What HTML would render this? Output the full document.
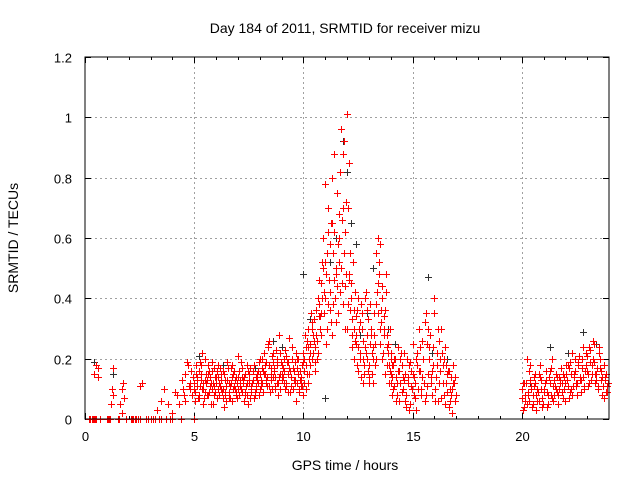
<!DOCTYPE html>
<html><head><meta charset="utf-8"><style>
html,body{margin:0;padding:0;background:#fff;}
svg{display:block;font-family:"Liberation Sans",sans-serif;}
</style></head><body>
<svg id="chart" width="640" height="480" viewBox="0 0 640 480">
<rect x="0" y="0" width="640" height="480" fill="#fff"/>
<text x="345" y="33" font-size="14" text-anchor="middle">Day 184 of 2011, SRMTID for receiver mizu</text>
<text x="345" y="470" font-size="14" text-anchor="middle">GPS time / hours</text>
<text x="0" y="0" font-size="14" text-anchor="middle" transform="translate(18,238) rotate(-90)">SRMTID / TECUs</text>
<g id="grid"></g><g id="ticks"></g><g id="marks"></g>
<rect x="85" y="57" width="524" height="362" fill="none" stroke="#000" stroke-width="1"/>
</svg>
<script>
const xTicks=[0,5,10,15,20];
const yTicks=[0,0.2,0.4,0.6,0.8,1,1.2];
const yTickLabels=["0","0.2","0.4","0.6","0.8","1","1.2"];
const redEarlyT=[0.2,0.3,0.4,0.5,0.6,0.4,0.5,0.6,1.0,1.1,1.2,1.3,1.25,1.3,1.6,1.7,1.75,1.8,1.7,2.3,2.5,2.6,2.5,3.1,3.3,3.5,3.6,3.8,4.0,4.1,4.2,4.3,4.5,4.6,4.7,4.8,4.9,1.5,2.1,2.2,2.8,2.9,3.4,3.7,3.9,4.0,4.4,5.0,0.7,1.9,3.0,0.25,0.35,0.45,1.05,1.15,1.55,2.15,2.35,2.45,3.2,3.5,4.45,4.55,4.65,4.75,4.85,4.95,4.6,4.8];
const redEarlyV=[0,0,0,0,0.17,0.15,0.18,0.14,0,0,0.05,0.17,0.1,0.08,0.05,0.1,0.12,0.07,0.02,0,0,0.12,0.11,0,0.03,0.06,0.1,0.05,0.02,0.09,0.08,0.05,0.1,0.15,0.18,0.12,0.08,0,0,0,0,0,0,0,0,0,0,0,0,0,0,0,0,0,0,0,0,0,0,0,0,0,0.13,0.08,0.19,0.11,0.16,0.14,0.06,0.1];
const red5A=[0.12,0.18,0.08,0.15,0.10,0.20,0.13,0.09,0.16,0.11,0.14,0.10,0.17,0.07,0.13,0.19,0.09,0.12,0.15,0.08,0.21,0.11,0.14,0.06,0.18,0.12,0.10,0.16,0.09,0.13,0.15,0.17,0.22,0.12,0.25,0.15,0.19,0.11,0.20,0.14,0.18,0.12,0.21,0.15,0.09,0.24,0.13,0.17,0.10,0.14,0.08];
const red5B=[0.06,0.14,0.11,0.22,0.07,0.15,0.18,0.05,0.12,0.09,0.16,0.08,0.13,0.04,0.11,0.17,0.07,0.14,0.10,0.12,0.08,0.19,0.13,0.09,0.16,0.07,0.12,0.18,0.10,0.08,0.13,0.09,0.18,0.14,0.26,0.10,0.16,0.23,0.08,0.15,0.17,0.10,0.19,0.27,0.11,0.16,0.06,0.20,0.13,0.18];
const red5C=[0.09,0.11,0.16,0.13,0.05,0.12,0.08,0.14,0.10,0.17,0.07,0.12,0.15,0.10,0.08,0.13,0.11,0.06,0.16,0.09,0.14,0.10,0.12,0.15,0.08,0.13,0.11,0.07,0.14,0.12,0.10,0.20,0.15,0.11,0.18,0.13,0.22,0.14,0.12,0.10,0.15,0.20,0.12,0.17,0.14,0.10,0.19,0.12,0.16,0.11];
const red5D=[0.15,0.07,0.19,0.10,0.13,0.08,0.16,0.12,0.05,0.14,0.18,0.11,0.09,0.15,0.06,0.12,0.17,0.10,0.13,0.07,0.16,0.09,0.14,0.11,0.05,0.17,0.13,0.08,0.15,0.19,0.11,0.16,0.13,0.24,0.09,0.21,0.17,0.12,0.28,0.19,0.14,0.23,0.09,0.16,0.20,0.13,0.22,0.15,0.11,0.19];
const red5E=[0.10,0.13,0.07,0.18,0.12,0.09,0.15,0.11,0.19,0.08,0.12,0.14,0.10,0.16,0.09,0.13,0.07,0.18,0.11,0.14,0.10,0.13,0.17,0.08,0.12,0.15,0.09,0.13,0.11,0.16,0.20,0.12,0.15,0.19,0.11,0.17,0.14,0.10,0.18,0.22,0.13,0.16,0.11,0.19,0.14,0.17,0.12,0.20,0.09,0.13];
const red10A=[0.22,0.18,0.30,0.25,0.20,0.33,0.28,0.38,0.45,0.60,0.78,0.55,0.42,0.65,0.88,0.50,0.35,0.82,0.70,0.62,1.01,0.85,0.45,0.30,0.25,0.40,0.20,0.35,0.15,0.28,0.18,0.30,0.12,0.25,0.45,0.58,0.40,0.30,0.48,0.25,0.20];
const red10B=[0.12,0.26,0.15,0.35,0.22,0.16,0.40,0.30,0.52,0.35,0.48,0.70,0.32,0.55,0.40,0.75,0.60,0.45,0.92,0.48,0.38,0.55,0.33,0.42,0.18,0.30,0.38,0.12,0.22,0.33,0.25,0.15,0.35,0.20,0.52,0.32,0.22,0.36,0.18,0.30,0.14];
const red10C=[0.20,0.10,0.24,0.18,0.28,0.24,0.20,0.46,0.35,0.42,0.25,0.38,0.58,0.28,0.62,0.44,0.52,0.96,0.38,0.30,0.70,0.36,0.28,0.20,0.34,0.24,0.14,0.26,0.40,0.20,0.14,0.22,0.28,0.55,0.35,0.25,0.20,0.15,0.28,0.12,0.22];
const red10D=[0.28,0.15,0.20,0.32,0.26,0.36,0.22,0.34,0.40,0.52,0.30,0.46,0.65,0.38,0.48,0.58,0.42,0.66,0.55,0.72,0.46,0.40,0.52,0.26,0.36,0.22,0.30,0.18,0.42,0.16,0.38,0.24,0.18,0.42,0.48,0.36,0.28,0.42,0.22,0.16];
const red10E=[0.16,0.24,0.12,0.22,0.30,0.19,0.26,0.34,0.28,0.50,0.40,0.62,0.36,0.80,0.46,0.32,0.68,0.50,0.88,0.44,0.30,0.48,0.24,0.36,0.28,0.16,0.32,0.20,0.24,0.36,0.12,0.28,0.20,0.38,0.60,0.30,0.44,0.34,0.24,0.18];
const red14A=[0.15,0.10,0.20,0.12,0.06,0.18,0.22,0.08,0.14,0.05,0.25,0.12,0.18,0.30,0.10,0.20,0.35,0.15,0.28,0.08,0.40,0.22,0.12,0.30,0.18,0.05,0.15,0.10,0.02,0.12,0.08];
const red14B=[0.08,0.20,0.14,0.24,0.12,0.10,0.15,0.20,0.03,0.16,0.08,0.20,0.10,0.24,0.14,0.06,0.25,0.20,0.12,0.18,0.06,0.30,0.16,0.22,0.08,0.18,0.04,0.14,0.18,0.06];
const red14C=[0.12,0.18,0.06,0.16,0.20,0.09,0.13,0.04,0.18,0.11,0.15,0.07,0.22,0.16,0.26,0.12,0.08,0.30,0.14,0.24,0.10,0.18,0.26,0.07,0.20,0.12,0.16,0.06,0.10,0.14];
const red14D=[0.18,0.11,0.08,0.16,0.22,0.14,0.06,0.12,0.19,0.10,0.14,0.03,0.16,0.08,0.20,0.32,0.11,0.24,0.16,0.35,0.14,0.06,0.20,0.12,0.24,0.09,0.16,0.08,0.12];
const red20A=[0.10,0.04,0.12,0.08,0.18,0.05,0.15,0.10,0.06,0.13,0.09,0.16,0.05,0.12,0.20,0.08,0.14,0.10,0.17,0.07,0.12,0.18,0.09,0.22,0.14,0.11,0.19,0.13,0.24,0.16,0.21,0.12,0.18,0.25,0.15,0.10,0.20,0.08,0.14,0.11];
const red20B=[0.03,0.08,0.20,0.06,0.11,0.14,0.03,0.09,0.18,0.07,0.12,0.04,0.14,0.08,0.11,0.15,0.05,0.13,0.09,0.14,0.18,0.07,0.15,0.11,0.20,0.08,0.13,0.17,0.10,0.22,0.15,0.19,0.26,0.12,0.17,0.22,0.13,0.18,0.09,0.12];
const red20C=[0.07,0.12,0.05,0.16,0.10,0.08,0.12,0.06,0.14,0.04,0.10,0.13,0.08,0.17,0.06,0.11,0.09,0.14,0.12,0.10,0.15,0.11,0.19,0.08,0.16,0.12,0.21,0.09,0.14,0.18,0.11,0.23,0.15,0.19,0.13,0.24,0.16,0.11,0.13,0.09];
const red20D=[0.12,0.06,0.09,0.13,0.04,0.11,0.08,0.15,0.10,0.05,0.12,0.09,0.16,0.07,0.13,0.10,0.08,0.12,0.15,0.06,0.13,0.17,0.10,0.15,0.12,0.18,0.14,0.20,0.11,0.16,0.24,0.13,0.20,0.15,0.11,0.17,0.14,0.07,0.15];
const blackT=[0.4,1.3,5.2,6.3,7.8,9.0,10.0,10.3,11.2,11.5,11.8,12.0,12.2,12.4,12.9,13.2,13.6,14.2,15.7,15.9,16.6,20.4,21.3,22.1,22.8,23.4,8.6,11.0,12.6,13.9];
const blackV=[0.19,0.15,0.21,0.18,0.17,0.24,0.48,0.33,0.52,0.60,0.92,0.82,0.65,0.58,0.35,0.50,0.44,0.25,0.47,0.22,0.20,0.12,0.24,0.22,0.29,0.25,0.26,0.07,0.28,0.30];

const X0=85,X1=609,Y0=419,Y1=57;
const xs=h=>X0+(h/24)*(X1-X0);
const ys=v=>Y0-(v/1.2)*(Y0-Y1);
const NS="http://www.w3.org/2000/svg";
const grid=document.getElementById('grid'),ticks=document.getElementById('ticks'),marks=document.getElementById('marks');
function mk(tag,attrs,parent){const e=document.createElementNS(NS,tag);for(const k in attrs)e.setAttribute(k,attrs[k]);parent.appendChild(e);return e;}
xTicks.forEach(t=>{
  const x=Math.round(xs(t))+0.5;
  if(t>0){const g=mk('line',{x1:x,y1:Y1,x2:x,y2:Y0,stroke:'#a0a0a0','stroke-dasharray':'2,3'},grid);
  
  }
  mk('line',{x1:x,y1:Y0,x2:x,y2:Y0-6,stroke:'#000'},ticks);
  mk('line',{x1:x,y1:Y1,x2:x,y2:Y1+6,stroke:'#000'},ticks);
  const l=mk('text',{x:x,y:441,'font-size':13,'text-anchor':'middle'},ticks);l.textContent=t;
  
  
});
for(let h=1;h<24;h++){if(h%5){const x=Math.round(xs(h))+0.5;mk('line',{x1:x,y1:Y0,x2:x,y2:Y0-3,stroke:'#000'},ticks);mk('line',{x1:x,y1:Y1,x2:x,y2:Y1+3,stroke:'#000'},ticks);}}
yTicks.forEach((t,i)=>{
  const y=Math.round(ys(t))+0.5;
  if(t>0&&t<1.2){const g=mk('line',{x1:X0,y1:y,x2:X1,y2:y,stroke:'#a0a0a0','stroke-dasharray':'2,3'},grid);
  
  }
  mk('line',{x1:X0,y1:y,x2:X0+6,y2:y,stroke:'#000'},ticks);
  mk('line',{x1:X1,y1:y,x2:X1-6,y2:y,stroke:'#000'},ticks);
  const l=mk('text',{x:72,y:y+5,'font-size':13,'text-anchor':'end'},ticks);l.textContent=yTickLabels[i];
  
  
});
function plus(h,v,color,name){
  const x=Math.round(xs(h))+0.5,y=Math.round(ys(v))+0.5;
  const p=mk('path',{d:`M${x-3.5},${y}H${x+3.5}M${x},${y-3.5}V${y+3.5}`,stroke:color,'stroke-width':1,fill:'none'},marks);
  
  
}
blackT.forEach((t,i)=>plus(t,blackV[i],'#303030','black-point'));
redEarlyT.forEach((t,i)=>plus(t,redEarlyV[i],'#ff0000','red-point'));
const rows=[[5.0,red5A],[5.05,red5B],[5.025,red5C],[5.075,red5D],[5.0125,red5E],[10.0,red10A],[10.05,red10B],[10.025,red10C],[10.075,red10D],[10.0125,red10E],[14.0,red14A],[14.05,red14B],[14.025,red14C],[14.075,red14D],[20.0,red20A],[20.05,red20B],[20.025,red20C],[20.075,red20D]];
rows.forEach(([start,vals])=>vals.forEach((v,i)=>plus(start+0.1*i,v,'#ff0000','red-point')));
</script>
</body></html>
